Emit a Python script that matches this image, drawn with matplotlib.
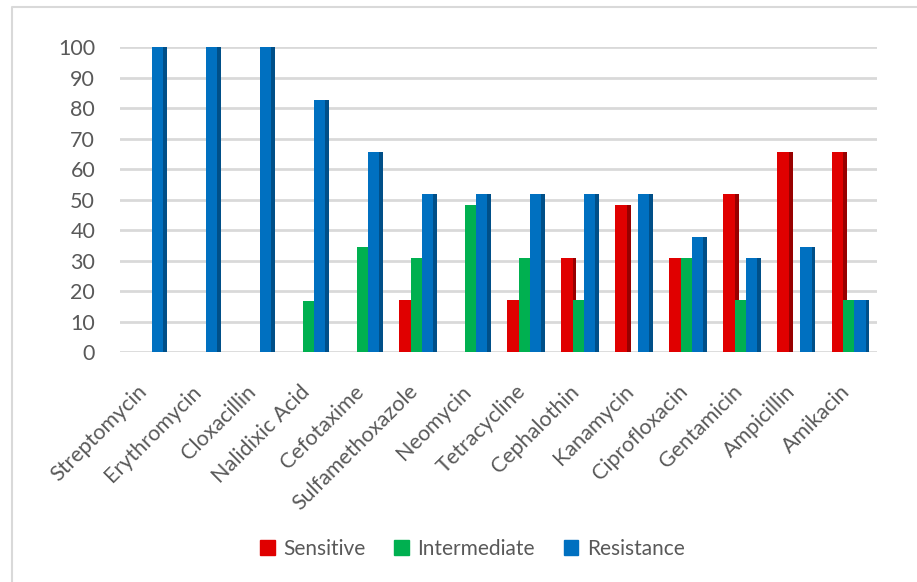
import numpy as np
import matplotlib
matplotlib.use('Agg')
import matplotlib.pyplot as plt
import matplotlib.transforms as mtransforms
from matplotlib.patches import Patch
from matplotlib.lines import Line2D

plt.rcParams['font.family'] = ['Lato', 'DejaVu Sans']

drugs = ['Streptomycin', 'Erythromycin', 'Cloxacillin', 'Nalidixic Acid', 'Cefotaxime',
         'Sulfamethoxazole', 'Neomycin', 'Tetracycline', 'Cephalothin', 'Kanamycin',
         'Ciprofloxacin', 'Gentamicin', 'Ampicillin', 'Amikacin']
sensitive = [0, 0, 0, 0, 0, 17.2, 0, 17.2, 31, 48.3, 31, 51.7, 65.5, 65.5]
intermediate = [0, 0, 0, 16.7, 34.5, 31, 48.3, 31, 17.2, 0, 31, 17.2, 0, 17.2]
resistance = [100, 100, 100, 82.8, 65.5, 51.7, 51.7, 51.7, 51.7, 51.7, 37.9, 31, 34.5, 17.2]

series = [('Sensitive', sensitive, '#E00000', '#980000'),
          ('Intermediate', intermediate, '#00B050', '#007A36'),
          ('Resistance', resistance, '#0070C0', '#004F88')]

fig = plt.figure(figsize=(9.17, 5.82), dpi=100)
ax = fig.add_axes([0.131, 0.395, 0.825, 0.524])

x = np.arange(len(drugs))
w = 0.21
side = 0.07
for i, (name, vals, col, dark) in enumerate(series):
    xs = x + (i - 1) * w - 0.02
    ax.bar(xs, vals, width=w, color=col, zorder=3)
    ax.bar(xs + w / 2 + side / 2, vals, width=side, color=dark, zorder=2)

ax.set_xlim(-0.5, len(drugs) - 0.5)
ax.set_ylim(0, 100)
ax.set_yticks(np.arange(0, 101, 10))
ax.yaxis.grid(True, color='#D9D9D9', linewidth=2)
ax.set_axisbelow(True)
for s in ax.spines.values():
    s.set_visible(False)
ax.tick_params(axis='both', length=0, labelsize=15.5, labelcolor='#595959')
ax.tick_params(axis='y', pad=18)
ax.tick_params(axis='x', pad=16)
ax.set_xticks(x)
ax.set_xticklabels(drugs, rotation=45, ha='right', rotation_mode='anchor')
shift = mtransforms.ScaledTranslation(-0.10, -0.07, fig.dpi_scale_trans)
for lab in ax.get_xticklabels():
    lab.set_transform(lab.get_transform() + shift)

handles = [Patch(color=c) for _, _, c, _ in series]
fig.legend(handles, [n for n, _, _, _ in series], loc='center', bbox_to_anchor=(0.515, 0.057),
           ncol=3, frameon=False, fontsize=15, handlelength=0.7, handleheight=0.7,
           columnspacing=1.4, handletextpad=0.4, labelcolor='#595959')

# chart frame: only left and top edges are inside the picture
fig.add_artist(Line2D([12 / 917, 12 / 917, 1.0], [0.0, 1 - 7 / 582, 1 - 7 / 582],
                      transform=fig.transFigure, color='#D9D9D9', linewidth=1.5))

fig.savefig('out.png', dpi=100)
